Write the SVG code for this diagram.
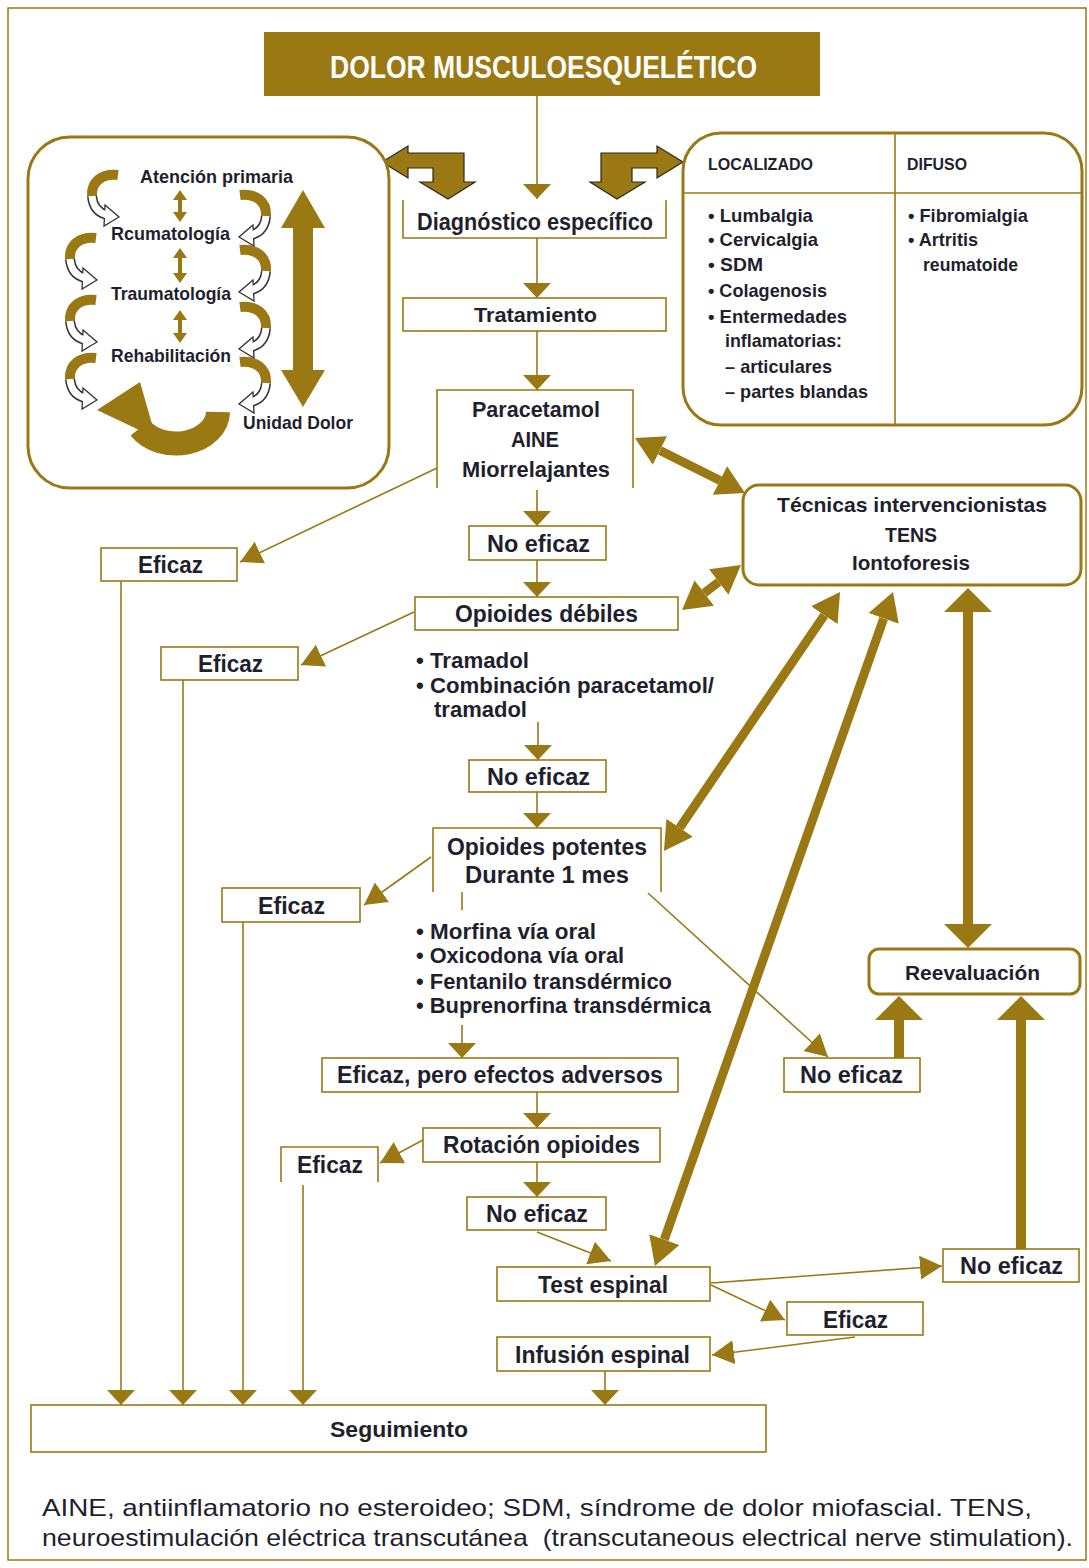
<svg xmlns="http://www.w3.org/2000/svg" xmlns:xlink="http://www.w3.org/1999/xlink" width="1089" height="1568" viewBox="0 0 1089 1568">
<style>
.t{font-family:"Liberation Sans Narrow","Arial Narrow","Liberation Sans",Arial,sans-serif;font-weight:bold;fill:#1f1f2e}
.fn{font-family:"Liberation Sans Narrow","Arial Narrow","Liberation Sans",Arial,sans-serif;font-weight:normal;fill:#1f1f2e}
.box{fill:#fff;stroke:#9a7814;stroke-width:1.6}
.open{fill:none;stroke:#9a7814;stroke-width:1.6}
.rbox{fill:#fff;stroke:#9a7814;stroke-width:3}
.ln{fill:none;stroke:#9a7814;stroke-width:1.6}
.thick{fill:none;stroke:#9a7814;stroke-width:9}
.gold{fill:#9a7814}
</style>
<defs>
<marker id="ah" markerUnits="userSpaceOnUse" markerWidth="16" markerHeight="30" viewBox="0 -15 16 30" refX="15" refY="0" orient="auto"><path d="M0,-14 L15,0 L0,14 z" fill="#9a7814"/></marker>
<marker id="ah2" markerUnits="userSpaceOnUse" markerWidth="24" markerHeight="26" viewBox="0 -13 24 26" refX="22" refY="0" orient="auto"><path d="M0,-12 L22,0 L0,12 z" fill="#9a7814"/></marker>
<marker id="big" markerUnits="userSpaceOnUse" markerWidth="30" markerHeight="34" viewBox="0 -17 30 34" refX="0" refY="0" orient="auto-start-reverse"><path d="M0,-16 L28,0 L0,16 z" fill="#9a7814"/></marker>
<g id="curl">
<path d="M30,5 C14,3 3,12 4,26" stroke="#9a7814" stroke-width="10" fill="none"/>
<path d="M4,26 C5,37 11,43 19,45" stroke="#333" stroke-width="10" fill="none"/>
<polygon points="17,35 31,47 16,56" fill="#fff" stroke="#333" stroke-width="1.3"/>
<path d="M4,26 C5,37 11,43 19,45" stroke="#fff" stroke-width="7" fill="none"/>
</g>
</defs>
<rect x="0" y="0" width="1089" height="1568" fill="#fff"/>
<rect x="8" y="8" width="1078" height="1552" fill="none" stroke="#9a7814" stroke-width="1.5"/>

<g id="connectors">
<line class="ln" x1="537" y1="96" x2="537" y2="199" marker-end="url(#ah)"/>
<line class="ln" x1="537" y1="238" x2="537" y2="298" marker-end="url(#ah)"/>
<line class="ln" x1="537" y1="331" x2="537" y2="390" marker-end="url(#ah)"/>
<line class="ln" x1="537" y1="490" x2="537" y2="526" marker-end="url(#ah)"/>
<line class="ln" x1="537" y1="560" x2="537" y2="597" marker-end="url(#ah)"/>
<line class="ln" x1="538" y1="722" x2="538" y2="760" marker-end="url(#ah)"/>
<line class="ln" x1="537" y1="792" x2="537" y2="828" marker-end="url(#ah)"/>
<line class="ln" x1="462" y1="892" x2="462" y2="910"/>
<line class="ln" x1="462" y1="1025" x2="462" y2="1058" marker-end="url(#ah)"/>
<line class="ln" x1="537" y1="1092" x2="537" y2="1128" marker-end="url(#ah)"/>
<line class="ln" x1="537" y1="1162" x2="537" y2="1197" marker-end="url(#ah)"/>
<line class="ln" x1="605" y1="1371" x2="605" y2="1405" marker-end="url(#ah)"/>
<line class="ln" x1="121" y1="581" x2="121" y2="1405" marker-end="url(#ah)"/>
<line class="ln" x1="183" y1="680" x2="183" y2="1405" marker-end="url(#ah)"/>
<line class="ln" x1="243" y1="922" x2="243" y2="1405" marker-end="url(#ah)"/>
<line class="ln" x1="303" y1="1185" x2="303" y2="1405" marker-end="url(#ah)"/>
<line class="ln" x1="437" y1="468" x2="240" y2="562" marker-end="url(#ah2)"/>
<line class="ln" x1="414" y1="612" x2="301" y2="665" marker-end="url(#ah2)"/>
<line class="ln" x1="431" y1="857" x2="364" y2="905" marker-end="url(#ah2)"/>
<line class="ln" x1="648" y1="893" x2="828" y2="1057" marker-end="url(#ah2)"/>
<line class="ln" x1="423" y1="1140" x2="380" y2="1163" marker-end="url(#ah2)"/>
<line class="ln" x1="537" y1="1232" x2="611" y2="1261" marker-end="url(#ah2)"/>
<line class="ln" x1="711" y1="1283" x2="942" y2="1266" marker-end="url(#ah2)"/>
<line class="ln" x1="711" y1="1285" x2="785" y2="1320" marker-end="url(#ah2)"/>
<line class="ln" x1="855" y1="1337" x2="712" y2="1355" marker-end="url(#ah2)"/>
<line class="thick" x1="660" y1="450.5" x2="720" y2="480.5" marker-start="url(#big)" marker-end="url(#big)"/>
<line class="thick" x1="704.3" y1="593" x2="718.7" y2="582" marker-start="url(#big)" marker-end="url(#big)"/>
<line class="thick" x1="679.7" y1="827.8" x2="824.3" y2="615.2" marker-start="url(#big)" marker-end="url(#big)"/>
<line class="thick" x1="883.7" y1="618.4" x2="664.3" y2="1239.6" marker-start="url(#big)" marker-end="url(#big)"/>
<polygon class="gold" points="968,588 992,612 973,612 973,924 992,924 968,948 944,924 963,924 963,612 944,612"/>
<polygon class="gold" points="899,996 923,1020 904,1020 904,1058 894,1058 894,1020 875,1020"/>
<polygon class="gold" points="1021,996 1045,1020 1026,1020 1026,1249 1016,1249 1016,1020 997,1020"/>
<polygon points="382,162 408,146 408,153 464,153 464,182 475,182 448,199 420,182 433,182 433,168 408,168 408,178" fill="#9a7814" stroke="#2a2a1a" stroke-width="1.2"/>
<polygon points="683,162 657,146 657,153 601,153 601,182 590,182 617,199 645,182 632,182 632,168 657,168 657,178" fill="#9a7814" stroke="#2a2a1a" stroke-width="1.2"/>
</g>

<g id="title">
<rect x="264" y="32" width="556" height="64" fill="#9a7814"/>
<text x="330" y="78" font-size="32" textLength="427" lengthAdjust="spacingAndGlyphs" class="t" style="fill:#fff">DOLOR MUSCULOESQUELÉTICO</text>
</g>

<g id="niveles">
<rect x="28" y="137" width="361" height="351" rx="42" class="rbox"/>
<use xlink:href="#curl" transform="translate(88,170)"/>
<use xlink:href="#curl" transform="translate(66,233)"/>
<use xlink:href="#curl" transform="translate(66,295)"/>
<use xlink:href="#curl" transform="translate(66,353)"/>
<use xlink:href="#curl" transform="translate(270,190) scale(-1,1)"/>
<use xlink:href="#curl" transform="translate(270,245) scale(-1,1)"/>
<use xlink:href="#curl" transform="translate(270,302) scale(-1,1)"/>
<use xlink:href="#curl" transform="translate(270,357) scale(-1,1)"/>
<polygon class="gold" points="180,190 187,200 182,200 182,212 187,212 180,222 173,212 178,212 178,200 173,200"/>
<polygon class="gold" points="180,248 187,258 182,258 182,273 187,273 180,283 173,273 178,273 178,258 173,258"/>
<polygon class="gold" points="180,310 187,320 182,320 182,333 187,333 180,343 173,333 178,333 178,320 173,320"/>
<polygon class="gold" points="303,190 325,228 313,228 313,370 325,370 303,407 281,370 293,370 293,228 281,228"/>
<path d="M218,412 A42 32 0 0 1 140,428" stroke="#9a7814" stroke-width="24" fill="none"/>
<polygon class="gold" points="97,410 140,382 156,438"/>
<text x="140" y="183" font-size="19" textLength="153" lengthAdjust="spacingAndGlyphs" class="t">Atención primaria</text>
<text x="111" y="240" font-size="19" textLength="119" lengthAdjust="spacingAndGlyphs" class="t">Rcumatología</text>
<text x="111" y="300" font-size="19" textLength="120" lengthAdjust="spacingAndGlyphs" class="t">Traumatología</text>
<text x="111" y="362" font-size="19" textLength="120" lengthAdjust="spacingAndGlyphs" class="t">Rehabilitación</text>
<text x="243" y="429" font-size="19" textLength="110" lengthAdjust="spacingAndGlyphs" class="t">Unidad Dolor</text>
</g>

<g id="tipos">
<rect x="683" y="133" width="399" height="292" rx="38" class="rbox"/>
<line x1="895" y1="133" x2="895" y2="425" stroke="#9a7814" stroke-width="1.6"/>
<line x1="683" y1="193" x2="1082" y2="193" stroke="#9a7814" stroke-width="1.6"/>
<text x="708" y="170" font-size="17" textLength="105" lengthAdjust="spacingAndGlyphs" class="t">LOCALIZADO</text>
<text x="907" y="170" font-size="17" textLength="60" lengthAdjust="spacingAndGlyphs" class="t">DIFUSO</text>
<g font-size="19" class="t">
<text x="708" y="222" textLength="105" lengthAdjust="spacingAndGlyphs">• Lumbalgia</text>
<text x="708" y="246" textLength="110" lengthAdjust="spacingAndGlyphs">• Cervicalgia</text>
<text x="708" y="271" textLength="55" lengthAdjust="spacingAndGlyphs">• SDM</text>
<text x="708" y="297" textLength="119" lengthAdjust="spacingAndGlyphs">• Colagenosis</text>
<text x="708" y="323" textLength="139" lengthAdjust="spacingAndGlyphs">• Entermedades</text>
<text x="725" y="347" textLength="117" lengthAdjust="spacingAndGlyphs">inflamatorias:</text>
<text x="725" y="373" textLength="107" lengthAdjust="spacingAndGlyphs">– articulares</text>
<text x="725" y="398" textLength="143" lengthAdjust="spacingAndGlyphs">– partes blandas</text>
<text x="908" y="222" textLength="120" lengthAdjust="spacingAndGlyphs">• Fibromialgia</text>
<text x="908" y="246" textLength="70" lengthAdjust="spacingAndGlyphs">• Artritis</text>
<text x="923" y="271" textLength="95" lengthAdjust="spacingAndGlyphs">reumatoide</text>
</g>
</g>

<g id="diagnostico">
<path d="M403,200 V238 H666 V200" class="open"/>
<text x="417" y="230" font-size="24" textLength="236" lengthAdjust="spacingAndGlyphs" class="t">Diagnóstico específico</text>
</g>
<g id="tratamiento">
<rect x="403" y="298" width="263" height="33" class="box"/>
<text x="474" y="322" font-size="21" textLength="123" lengthAdjust="spacingAndGlyphs" class="t">Tratamiento</text>
</g>
<g id="paracetamol">
<path d="M437,488 V390 H633 V488" class="open"/>
<text x="472" y="417" font-size="22" textLength="128" lengthAdjust="spacingAndGlyphs" class="t">Paracetamol</text>
<text x="511" y="447" font-size="22" textLength="48" lengthAdjust="spacingAndGlyphs" class="t">AINE</text>
<text x="462" y="477" font-size="22" textLength="148" lengthAdjust="spacingAndGlyphs" class="t">Miorrelajantes</text>
</g>
<g id="noeficaz1">
<rect x="469" y="526" width="137" height="34" class="box"/>
<text x="487" y="552" font-size="24" textLength="103" lengthAdjust="spacingAndGlyphs" class="t">No eficaz</text>
</g>
<g id="eficaz1">
<rect x="101" y="548" width="136" height="33" class="box"/>
<text x="138" y="573" font-size="24" textLength="65" lengthAdjust="spacingAndGlyphs" class="t">Eficaz</text>
</g>
<g id="tecnicas">
<rect x="743" y="485" width="338" height="100" rx="16" class="rbox"/>
<text x="777" y="512" font-size="21" textLength="270" lengthAdjust="spacingAndGlyphs" class="t">Técnicas intervencionistas</text>
<text x="885" y="542" font-size="21" textLength="52" lengthAdjust="spacingAndGlyphs" class="t">TENS</text>
<text x="852" y="570" font-size="21" textLength="118" lengthAdjust="spacingAndGlyphs" class="t">Iontoforesis</text>
</g>
<g id="debiles">
<rect x="415" y="597" width="263" height="33" class="box"/>
<text x="455" y="622" font-size="24" textLength="183" lengthAdjust="spacingAndGlyphs" class="t">Opioides débiles</text>
</g>
<g id="eficaz2">
<rect x="161" y="647" width="137" height="33" class="box"/>
<text x="198" y="672" font-size="24" textLength="65" lengthAdjust="spacingAndGlyphs" class="t">Eficaz</text>
</g>
<g id="lista-debiles" class="t" font-size="22">
<text x="416" y="668" textLength="113" lengthAdjust="spacingAndGlyphs">• Tramadol</text>
<text x="416" y="693" textLength="298" lengthAdjust="spacingAndGlyphs">• Combinación paracetamol/</text>
<text x="434" y="717" textLength="93" lengthAdjust="spacingAndGlyphs">tramadol</text>
</g>
<g id="noeficaz2">
<rect x="469" y="760" width="137" height="32" class="box"/>
<text x="487" y="785" font-size="24" textLength="103" lengthAdjust="spacingAndGlyphs" class="t">No eficaz</text>
</g>
<g id="potentes">
<path d="M433,892 V828 H661 V892" class="open"/>
<text x="447" y="855" font-size="23" textLength="200" lengthAdjust="spacingAndGlyphs" class="t">Opioides potentes</text>
<text x="465" y="883" font-size="23" textLength="164" lengthAdjust="spacingAndGlyphs" class="t">Durante 1 mes</text>
</g>
<g id="eficaz3">
<rect x="222" y="888" width="138" height="34" class="box"/>
<text x="258" y="914" font-size="24" textLength="67" lengthAdjust="spacingAndGlyphs" class="t">Eficaz</text>
</g>
<g id="lista-potentes" class="t" font-size="22">
<text x="416" y="939" textLength="180" lengthAdjust="spacingAndGlyphs">• Morfina vía oral</text>
<text x="416" y="963" textLength="208" lengthAdjust="spacingAndGlyphs">• Oxicodona vía oral</text>
<text x="416" y="989" textLength="256" lengthAdjust="spacingAndGlyphs">• Fentanilo transdérmico</text>
<text x="416" y="1013" textLength="295" lengthAdjust="spacingAndGlyphs">• Buprenorfina transdérmica</text>
</g>
<g id="reevaluacion">
<rect x="869" y="949" width="211" height="45" rx="10" class="rbox"/>
<text x="905" y="980" font-size="21" textLength="135" lengthAdjust="spacingAndGlyphs" class="t">Reevaluación</text>
</g>
<g id="adversos">
<rect x="322" y="1058" width="356" height="34" class="box"/>
<text x="337" y="1083" font-size="23" textLength="326" lengthAdjust="spacingAndGlyphs" class="t">Eficaz, pero efectos adversos</text>
</g>
<g id="noeficaz3">
<rect x="784" y="1058" width="136" height="34" class="box"/>
<text x="800" y="1083" font-size="24" textLength="103" lengthAdjust="spacingAndGlyphs" class="t">No eficaz</text>
</g>
<g id="rotacion">
<rect x="423" y="1128" width="237" height="34" class="box"/>
<text x="443" y="1153" font-size="23" textLength="197" lengthAdjust="spacingAndGlyphs" class="t">Rotación opioides</text>
</g>
<g id="eficaz4">
<path d="M281,1182 V1147 H378 V1182" class="open"/>
<text x="297" y="1173" font-size="24" textLength="66" lengthAdjust="spacingAndGlyphs" class="t">Eficaz</text>
</g>
<g id="noeficaz5">
<rect x="467" y="1197" width="139" height="33" class="box"/>
<text x="486" y="1222" font-size="24" textLength="102" lengthAdjust="spacingAndGlyphs" class="t">No eficaz</text>
</g>
<g id="test">
<rect x="497" y="1267" width="213" height="34" class="box"/>
<text x="538" y="1293" font-size="23" textLength="130" lengthAdjust="spacingAndGlyphs" class="t">Test espinal</text>
</g>
<g id="noeficaz4">
<rect x="943" y="1249" width="136" height="33" class="box"/>
<text x="960" y="1274" font-size="24" textLength="103" lengthAdjust="spacingAndGlyphs" class="t">No eficaz</text>
</g>
<g id="eficaz5">
<rect x="787" y="1302" width="136" height="33" class="box"/>
<text x="823" y="1328" font-size="24" textLength="65" lengthAdjust="spacingAndGlyphs" class="t">Eficaz</text>
</g>
<g id="infusion">
<rect x="497" y="1337" width="213" height="34" class="box"/>
<text x="515" y="1363" font-size="23" textLength="175" lengthAdjust="spacingAndGlyphs" class="t">Infusión espinal</text>
</g>
<g id="seguimiento">
<rect x="31" y="1405" width="735" height="47" class="box"/>
<text x="330" y="1437" font-size="22" textLength="138" lengthAdjust="spacingAndGlyphs" class="t">Seguimiento</text>
</g>
<g id="nota">
<text x="42" y="1516" font-size="24" textLength="990" lengthAdjust="spacingAndGlyphs" class="fn">AINE, antiinflamatorio no esteroideo; SDM, síndrome de dolor miofascial. TENS,</text>
<text x="42" y="1546" font-size="24" textLength="1031" lengthAdjust="spacingAndGlyphs" class="fn" xml:space="preserve">neuroestimulación eléctrica transcutánea  (transcutaneous electrical nerve stimulation).</text>
</g>
</svg>
